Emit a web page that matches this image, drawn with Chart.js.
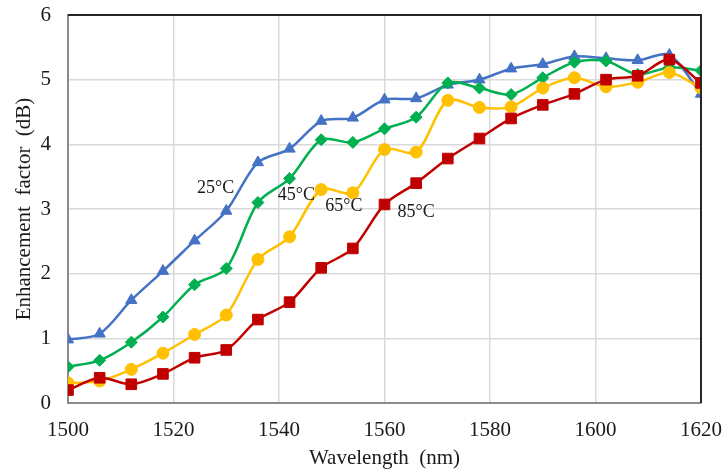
<!DOCTYPE html>
<html>
<head>
<meta charset="utf-8">
<script src="https://cdn.jsdelivr.net/npm/chart.js@4"></script>
<style>
  html, body { margin: 0; padding: 0; background: #fff; }
  #wrap { width: 724px; height: 471px; }
</style>
</head>
<body>
<div id="wrap"><canvas id="efChart"></canvas></div>
<script>
// wavelength (nm), one point every 6 nm
const wavelengths = [1500, 1506, 1512, 1518, 1524, 1530, 1536, 1542, 1548, 1554, 1560,
                     1566, 1572, 1578, 1584, 1590, 1596, 1602, 1608, 1614, 1620];

// enhancement factor (dB) per temperature
const ef25 = [0.98, 1.07, 1.59, 2.04, 2.51, 2.97, 3.72, 3.93, 4.36, 4.41, 4.69,
              4.71, 4.92, 5.00, 5.17, 5.24, 5.36, 5.33, 5.30, 5.38, 4.78];
const ef45 = [0.56, 0.66, 0.94, 1.33, 1.83, 2.08, 3.10, 3.47, 4.07, 4.03, 4.24,
              4.42, 4.95, 4.87, 4.77, 5.03, 5.27, 5.29, 5.08, 5.19, 5.14];
const ef65 = [0.31, 0.34, 0.52, 0.77, 1.06, 1.36, 2.22, 2.57, 3.30, 3.25, 3.92,
              3.88, 4.68, 4.57, 4.58, 4.87, 5.03, 4.89, 4.96, 5.11, 4.87];
const ef85 = [0.20, 0.39, 0.29, 0.45, 0.70, 0.82, 1.29, 1.56, 2.09, 2.39, 3.07,
              3.40, 3.78, 4.09, 4.40, 4.61, 4.78, 5.00, 5.06, 5.31, 4.95];

const xTicks = [1500, 1520, 1540, 1560, 1580, 1600, 1620];
const yTicks = [0, 1, 2, 3, 4, 5, 6];

// in-plot labels, placed in data units
const tempLabels = ['25°C', '45°C', '65°C', '85°C'];
const labelX = [1528.0, 1543.3, 1552.3, 1566.0];
const labelY = [3.32, 3.21, 3.05, 2.95];

const SERIF = '"Liberation Serif", "Times New Roman", serif';

function pts(ys) {
    return wavelengths.map((x, i) => ({ x: x, y: ys[i] }));
}

function series(ys, color, style, radius, order) {
    return {
        data: pts(ys),
        borderColor: color,
        backgroundColor: color,
        borderWidth: 2.5,
        pointStyle: style,
        pointRadius: radius,
        pointBorderWidth: 1,
        tension: 0.3,
        order: order
    };
}

// top + right frame, and the temperature labels
const framePlugin = {
    id: 'frame',
    afterDatasetsDraw(chart) {
        const { ctx, chartArea: a, scales } = chart;
        ctx.save();
        ctx.strokeStyle = '#262626';
        ctx.lineWidth = 2;
        ctx.beginPath();
        ctx.moveTo(a.left, a.top);
        ctx.lineTo(a.right, a.top);
        ctx.lineTo(a.right, a.bottom);
        ctx.stroke();

        ctx.font = '18px ' + SERIF;
        ctx.fillStyle = '#1a1a1a';
        ctx.textAlign = 'center';
        ctx.textBaseline = 'middle';
        tempLabels.forEach((t, i) => {
            ctx.fillText(t, scales.x.getPixelForValue(labelX[i]), scales.y.getPixelForValue(labelY[i]));
        });
        ctx.restore();
    }
};

document.addEventListener('DOMContentLoaded', function() {
    const ctx = document.getElementById('efChart').getContext('2d');
    new Chart(ctx, {
        type: 'line',
        data: {
            datasets: [
                series(ef25, '#4472C4', 'triangle', 6.5, 4),
                series(ef45, '#00B050', 'rectRot', 6, 3),
                series(ef65, '#FFC000', 'circle', 6, 2),
                series(ef85, '#C00000', 'rect', 7.5, 1)
            ]
        },
        options: {
            responsive: true,
            maintainAspectRatio: false,
            animation: false,
            layout: {
                padding: { top: 15, right: 23, left: 0, bottom: 0 }
            },
            plugins: {
                legend: { display: false },
                tooltip: { enabled: false }
            },
            scales: {
                x: {
                    type: 'linear',
                    min: 1500,
                    max: 1620,
                    afterBuildTicks: s => { s.ticks = xTicks.map(v => ({ value: v })); },
                    afterFit: s => { s.height = 68; s.paddingLeft = 0; s.paddingRight = 0; },
                    grid: { color: '#d9d9d9', lineWidth: 1.5, drawTicks: false },
                    border: { color: '#8c8c8c', width: 2 },
                    ticks: {
                        padding: 15,
                        color: '#1a1a1a',
                        font: { family: SERIF, size: 21 },
                        callback: v => String(v)
                    },
                    title: {
                        display: true,
                        text: 'Wavelength  (nm)',
                        color: '#1a1a1a',
                        font: { family: SERIF, size: 21 },
                        padding: { top: 0, bottom: 0 }
                    }
                },
                y: {
                    min: 0,
                    max: 6,
                    afterBuildTicks: s => { s.ticks = yTicks.map(v => ({ value: v })); },
                    afterFit: s => { s.width = 68; s.paddingTop = 0; s.paddingBottom = 0; },
                    grid: { color: '#d9d9d9', lineWidth: 1.5, drawTicks: false },
                    border: { color: '#8c8c8c', width: 2 },
                    ticks: {
                        padding: 17,
                        color: '#1a1a1a',
                        font: { family: SERIF, size: 21 },
                        callback: v => String(v)
                    },
                    title: {
                        display: true,
                        text: 'Enhancement  factor  (dB)',
                        color: '#1a1a1a',
                        font: { family: SERIF, size: 21 },
                        padding: { top: 12, bottom: 0 }
                    }
                }
            }
        },
        plugins: [framePlugin]
    });
});
</script>
</body>
</html>
